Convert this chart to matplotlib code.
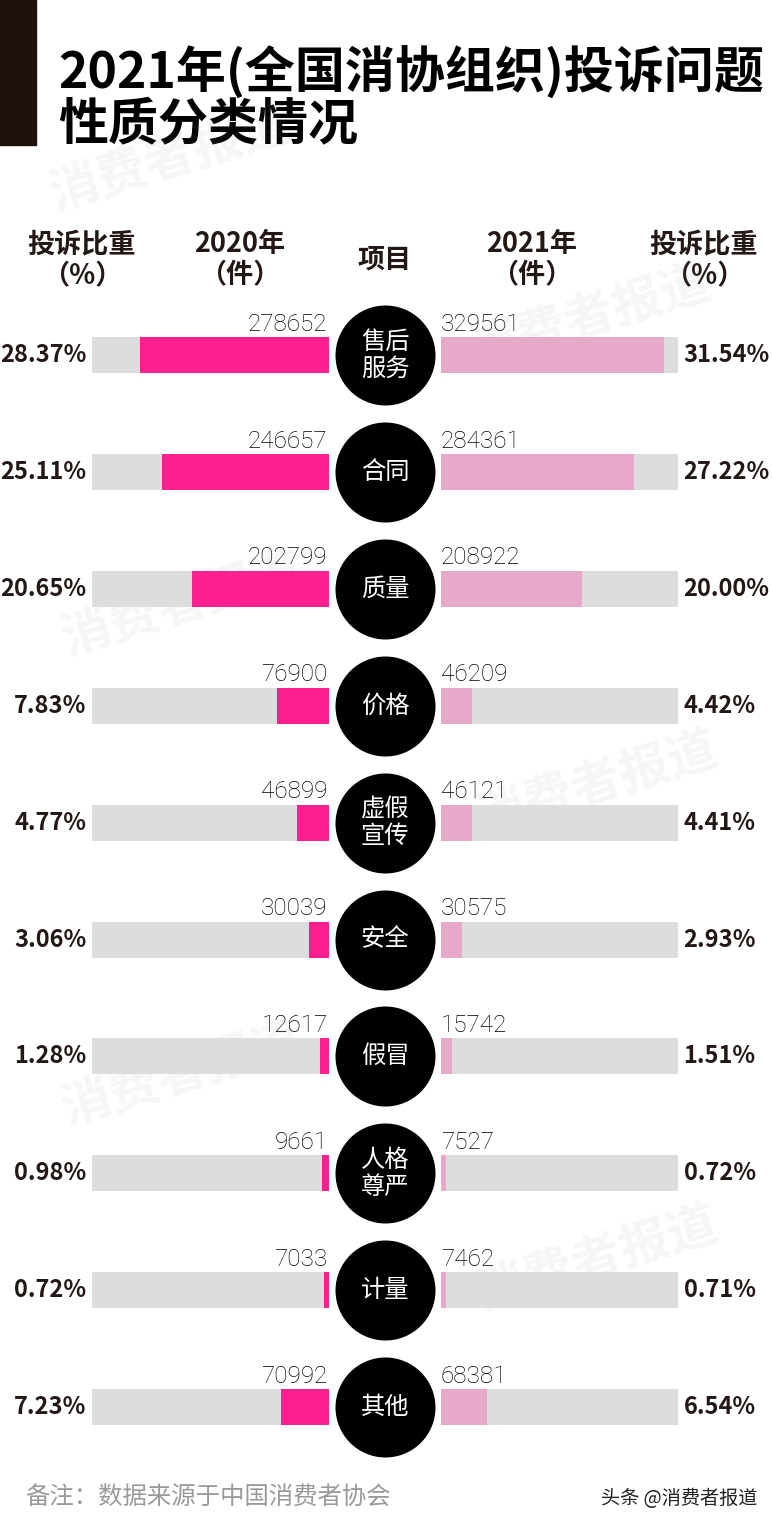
import matplotlib
matplotlib.use("Agg")
import matplotlib.pyplot as plt
import numpy as np

plt.rcParams['font.family'] = ['Noto Sans CJK SC', 'DejaVu Sans']

# ---------------- data ----------------
categories = ["售后服务", "合同", "质量", "价格", "虚假宣传", "安全", "假冒", "人格尊严", "计量", "其他"]
count_2020 = [278652, 246657, 202799, 76900, 46899, 30039, 12617, 9661, 7033, 70992]
count_2021 = [329561, 284361, 208922, 46209, 46121, 30575, 15742, 7527, 7462, 68381]
share_2020 = ["28.37%", "25.11%", "20.65%", "7.83%", "4.77%", "3.06%", "1.28%", "0.98%", "0.72%", "7.23%"]
share_2021 = ["31.54%", "27.22%", "20.00%", "4.42%", "4.41%", "2.93%", "1.51%", "0.72%", "0.71%", "6.54%"]
scale_max = 350000

title_lines = ["2021年(全国消协组织)投诉问题", "性质分类情况"]
headers = [("投诉比重\n（%）", 82), ("2020年\n（件）", 240), ("项目", 385), ("2021年\n（件）", 532), ("投诉比重\n（%）", 704)]
note = "备注：数据来源于中国消费者协会"
credit = "头条 @消费者报道"

# ---------------- style ----------------
W, H = 772, 1526
PINK = "#ff1f8f"
LPINK = "#e6a9c9"
GRAY = "#dddddd"
DARK = "#231815"

fig = plt.figure(figsize=(W / 100, H / 100), dpi=100)
fig.patch.set_facecolor("white")

# background / text layer in pixel coordinates
ax0 = fig.add_axes([0, 0, 1, 1])
ax0.set_xlim(0, W)
ax0.set_ylim(H, 0)
ax0.axis("off")

ax0.add_patch(plt.Rectangle((0, 0), 36, 145, color="#1c120b", zorder=1))
ax0.text(58, 73, title_lines[0], fontsize=36, fontweight="heavy", color="black", va="center", ha="left")
ax0.text(58, 125, title_lines[1], fontsize=36, fontweight="heavy", color="black", va="center", ha="left")

for txt, xc in headers:
    ax0.text(xc, 260, txt, fontsize=19.5, fontweight="bold", color=DARK, ha="center", va="center",
             linespacing=1.15)

ax0.text(25, 1498, note, fontsize=17.6, color="#9a9a9a", ha="left", va="center", fontweight="light")
ax0.text(757, 1498, credit, fontsize=13.8, color="#222222", ha="right", va="center")

# row geometry
n = len(categories)
row0, step = 355, 116.9
top_px = row0 - step / 2
bot_px = row0 + step * (n - 1) + step / 2
ab = 1 - bot_px / H
ah = (bot_px - top_px) / H
bar_h = 36 / step

axL = fig.add_axes([92 / W, ab, 237 / W, ah])
axR = fig.add_axes([441 / W, ab, 237 / W, ah])
axC = fig.add_axes([334 / W, ab, 102 / W, ah])
for a in (axL, axR, axC):
    a.set_ylim(n - 0.5, -0.5)
    a.axis("off")
    a.patch.set_alpha(0)
axL.set_xlim(scale_max, 0)
axR.set_xlim(0, scale_max)
axC.set_xlim(-1, 1)

y = np.arange(n)
axL.barh(y, [scale_max] * n, height=bar_h, color=GRAY, zorder=1)
axL.barh(y, count_2020, height=bar_h, color=PINK, zorder=2)
axR.barh(y, [scale_max] * n, height=bar_h, color=GRAY, zorder=1)
axR.barh(y, count_2021, height=bar_h, color=LPINK, zorder=2)

NUMC = "#000000"
for i in range(n):
    axL.annotate(f"{count_2020[i]}", xy=(0, i - bar_h / 2), xytext=(-1, 1), textcoords="offset points",
                 ha="right", va="bottom", fontsize=17.5, family=["Roboto", "DejaVu Sans"],
                 fontweight="light", color=NUMC)
    axR.annotate(f"{count_2021[i]}", xy=(0, i - bar_h / 2), xytext=(0, 1), textcoords="offset points",
                 ha="left", va="bottom", fontsize=17.5, family=["Roboto", "DejaVu Sans"],
                 fontweight="light", color=NUMC)
    axL.annotate(share_2020[i], xy=(scale_max, i), xytext=(-4, 0), textcoords="offset points",
                 ha="right", va="center", fontsize=17, fontweight="bold", color=DARK)
    axR.annotate(share_2021[i], xy=(scale_max, i), xytext=(4, 0), textcoords="offset points",
                 ha="left", va="center", fontsize=17, fontweight="bold", color=DARK)

axC.scatter([0] * n, y, s=72 ** 2, color="black", zorder=3, linewidths=0)
for i, c in enumerate(categories):
    label = c if len(c) <= 2 else c[:2] + "\n" + c[2:]
    axC.text(0, i, label, ha="center", va="center", color="white", fontsize=17.5, zorder=4,
             linespacing=1.05, fontweight="medium")

# faint watermarks
marks = [(170, 160), (590, 318), (182, 605), (597, 785), (182, 1075), (597, 1260)]
for (mx, my) in marks:
    ax0.text(mx, my, "消费者报道", fontsize=36, fontweight="bold", color="#888888", alpha=0.08,
             rotation=17, ha="center", va="center", zorder=10)

fig.savefig("out.png", dpi=100)
